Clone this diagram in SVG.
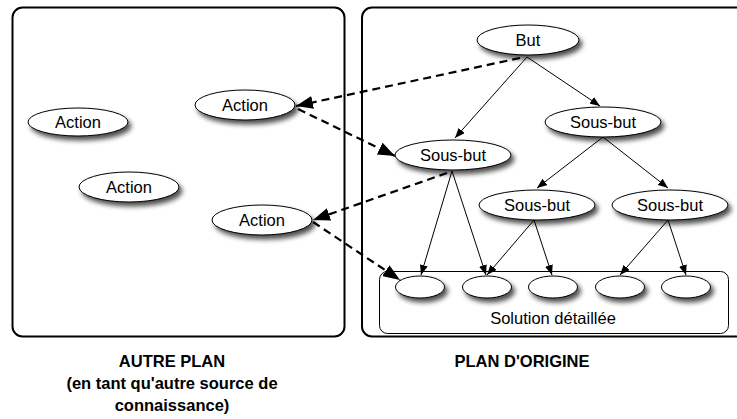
<svg xmlns="http://www.w3.org/2000/svg" width="737" height="419" viewBox="0 0 737 419">
<defs>
<filter id="sh" x="-20%" y="-30%" width="150%" height="190%">
<feGaussianBlur in="SourceAlpha" stdDeviation="2.5"/>
<feOffset dx="3" dy="4" result="b"/>
<feComponentTransfer><feFuncA type="linear" slope="0.7"/></feComponentTransfer>
<feMerge><feMergeNode/><feMergeNode in="SourceGraphic"/></feMerge>
</filter>
<marker id="ah" markerUnits="userSpaceOnUse" markerWidth="10" markerHeight="8" viewBox="0 0 10 8" refX="10" refY="4" orient="auto">
<path d="M0,0 L10,4 L0,8 Z" fill="#000"/>
</marker>
<marker id="ahd" markerUnits="userSpaceOnUse" markerWidth="17" markerHeight="13" viewBox="0 0 17 13" refX="17" refY="6.5" orient="auto">
<path d="M0,0 L17,6.5 L0,13 Z" fill="#000"/>
</marker>
</defs>
<style>
.panel{fill:#fff;stroke:#000;stroke-width:2}
.node ellipse{fill:#fff;stroke:#000;stroke-width:1;filter:url(#sh)}
.t{font-family:"Liberation Sans",Arial,sans-serif;font-size:16.5px;text-anchor:middle;fill:#000}
.b{font-family:"Liberation Sans",Arial,sans-serif;font-size:16.5px;font-weight:bold;text-anchor:middle;fill:#000}
.e{stroke:#000;stroke-width:1;fill:none;marker-end:url(#ah)}
.d{stroke:#000;stroke-width:2.2;fill:none;stroke-dasharray:8 5;marker-end:url(#ahd)}
</style>
<rect width="737" height="419" fill="#fff"/>
<g id="panel-autre"><rect class="panel" x="12.5" y="7.5" width="332" height="329" rx="10"/></g>
<g id="panel-origine"><rect class="panel" x="362" y="7.5" width="390" height="329" rx="10"/></g>
<g id="solution"><rect x="379.5" y="271.5" width="349" height="62" rx="8" fill="#fff" stroke="#000" stroke-width="1"/>
<text class="t" x="553" y="324">Solution détaillée</text></g>

<g id="connectors">
<line class="e" x1="527" y1="57" x2="455" y2="138"/>
<line class="e" x1="527" y1="57" x2="600" y2="106"/>
<line class="e" x1="603" y1="137" x2="537" y2="188"/>
<line class="e" x1="603" y1="137" x2="668" y2="188"/>
<line class="e" x1="452" y1="171" x2="421" y2="275"/>
<line class="e" x1="452" y1="171" x2="486" y2="275"/>
<line class="e" x1="534" y1="220" x2="487" y2="275"/>
<line class="e" x1="534" y1="220" x2="552" y2="275"/>
<line class="e" x1="668" y1="220" x2="620" y2="275"/>
<line class="e" x1="668" y1="220" x2="686" y2="275"/>
<line class="d" x1="520" y1="58" x2="296" y2="106"/>
<line class="d" x1="298" y1="109" x2="395" y2="156"/>
<line class="d" x1="447" y1="173" x2="313" y2="220"/>
<line class="d" x1="313" y1="222" x2="400" y2="280"/>
</g>

<g id="action1" class="node"><ellipse cx="78" cy="122" rx="50" ry="14"/><text class="t" x="78" y="128">Action</text></g>
<g id="action2" class="node"><ellipse cx="245" cy="105" rx="50" ry="15"/><text class="t" x="245" y="111">Action</text></g>
<g id="action3" class="node"><ellipse cx="129" cy="187" rx="50" ry="15"/><text class="t" x="129" y="193">Action</text></g>
<g id="action4" class="node"><ellipse cx="262" cy="220" rx="50" ry="15"/><text class="t" x="262" y="226">Action</text></g>

<g id="but" class="node"><ellipse cx="528" cy="40" rx="51" ry="15"/><text class="t" x="528" y="46">But</text></g>
<g id="sousbut-droite" class="node"><ellipse cx="603" cy="122" rx="58" ry="15"/><text class="t" x="603" y="128">Sous-but</text></g>
<g id="sousbut-gauche" class="node"><ellipse cx="453" cy="155" rx="58" ry="15"/><text class="t" x="453" y="161">Sous-but</text></g>
<g id="sousbut-milieu" class="node"><ellipse cx="537" cy="205" rx="58" ry="15"/><text class="t" x="537" y="211">Sous-but</text></g>
<g id="sousbut-extreme" class="node"><ellipse cx="670" cy="205" rx="58" ry="15"/><text class="t" x="670" y="211">Sous-but</text></g>

<g id="sol1" class="node"><ellipse cx="420" cy="287" rx="24.5" ry="11"/></g>
<g id="sol2" class="node"><ellipse cx="487" cy="287" rx="24.5" ry="11"/></g>
<g id="sol3" class="node"><ellipse cx="553" cy="287" rx="24.5" ry="11"/></g>
<g id="sol4" class="node"><ellipse cx="620" cy="287" rx="24.5" ry="11"/></g>
<g id="sol5" class="node"><ellipse cx="686" cy="287" rx="24.5" ry="11"/></g>

<g id="labels">
<text class="b" x="172" y="367">AUTRE PLAN</text>
<text class="b" x="172" y="389">(en tant qu'autre source de</text>
<text class="b" x="172" y="411">connaissance)</text>
<text class="b" x="522" y="367">PLAN D'ORIGINE</text>
</g>
</svg>
